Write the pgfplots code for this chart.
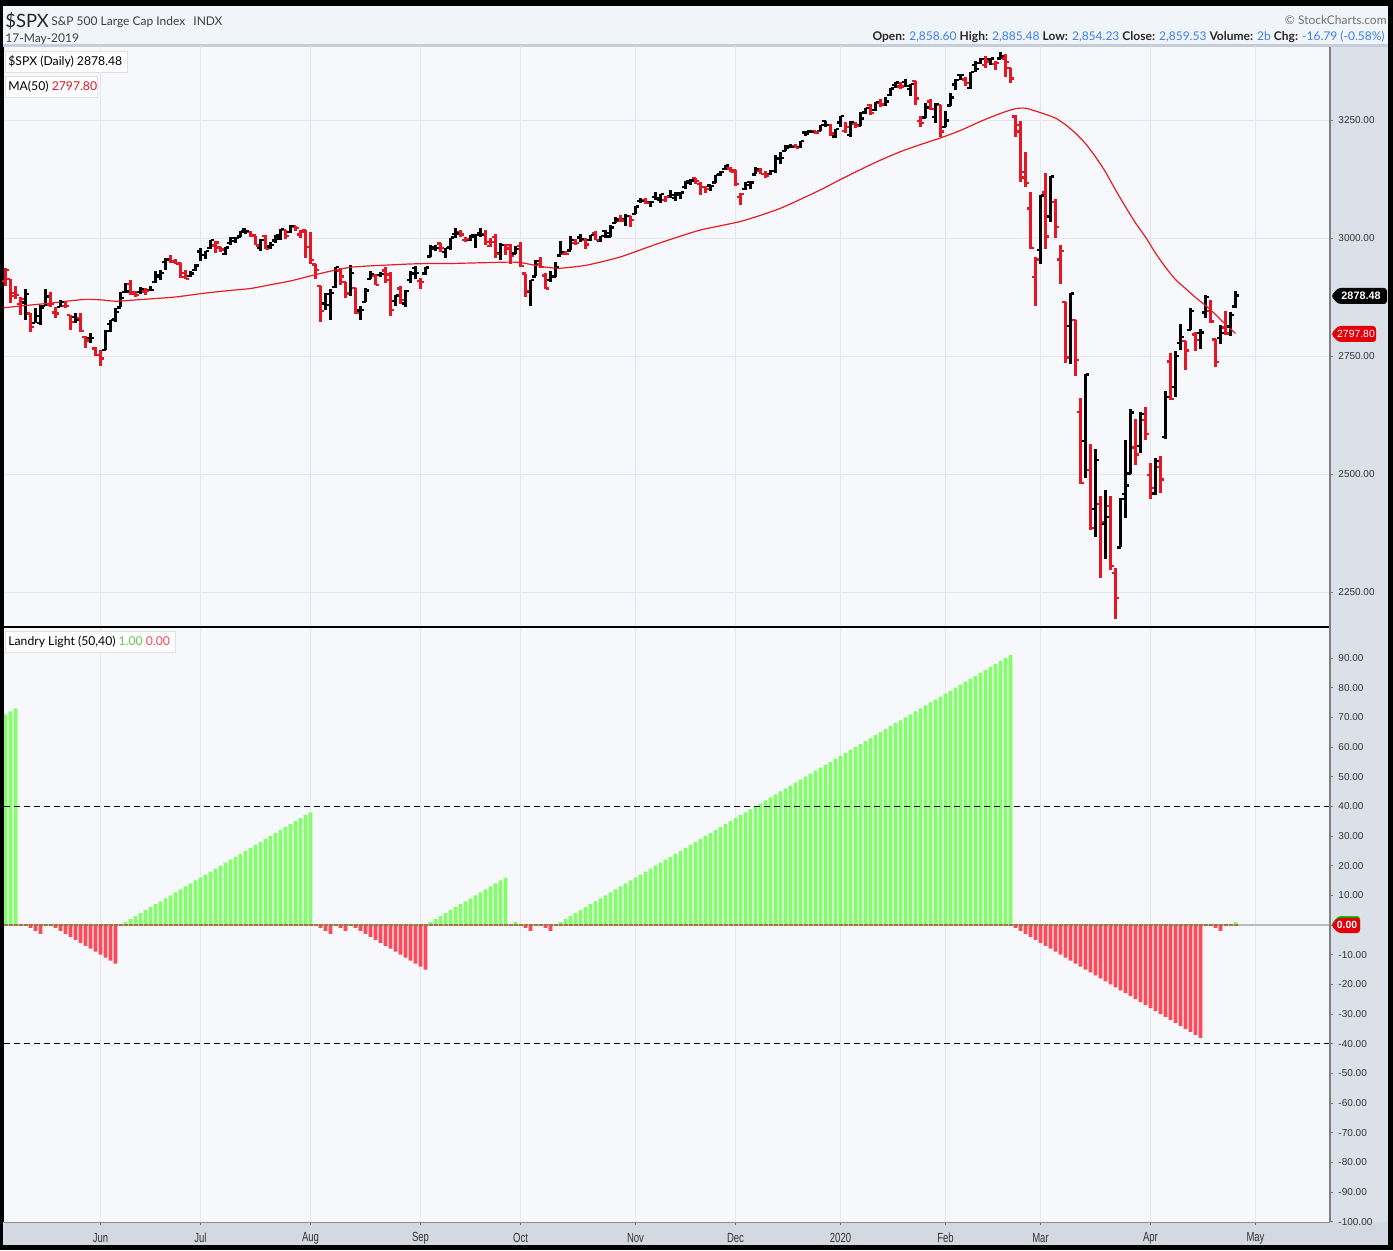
\documentclass[border=0pt]{standalone}
\usepackage{pgfplots}
\pgfplotsset{compat=1.18}
\usepackage{pgfplotstable}
\usepackage{fontspec}
\setmainfont{Lato}
\newfontfamily\numfont{Liberation Sans}
\newfontfamily\condfont[FakeStretch=0.72]{Liberation Sans}

\definecolor{hdrbg}{RGB}{241,244,248}
\definecolor{hdrline}{RGB}{196,206,218}
\definecolor{plotbg}{RGB}{247,248,252}
\definecolor{axbg}{RGB}{220,224,232}
\definecolor{botbg}{RGB}{212,216,224}
\definecolor{gridc}{RGB}{228,230,236}
\definecolor{pricered}{RGB}{228,24,36}
\definecolor{mared}{RGB}{228,30,36}
\definecolor{lgreen}{RGB}{128,255,104}
\definecolor{lred}{RGB}{255,72,88}
\definecolor{brownc}{RGB}{165,115,60}
\definecolor{valblue}{RGB}{58,128,238}
\definecolor{tagred}{RGB}{226,0,10}

\pgfdeclareplotmark{otick}{\pgfpathmoveto{\pgfqpoint{-\pgfplotmarksize}{0pt}}\pgfpathlineto{\pgfqpoint{0pt}{0pt}}\pgfusepathqstroke}
\pgfdeclareplotmark{ctick}{\pgfpathmoveto{\pgfqpoint{0pt}{0pt}}\pgfpathlineto{\pgfqpoint{\pgfplotmarksize}{0pt}}\pgfusepathqstroke}

\pgfplotstableread[row sep=\\]{
i o h l c u\\
-19 2908.89 2937.32 2898.21 2932.51 0\\ -18 2913.03 2913.03 2862.60 2884.05 0\\ -17 2877.49 2898.45 2870.39 2879.42 0\\
-16 2859.84 2875.97 2836.40 2870.72 0\\ -15 2863.10 2891.31 2825.39 2881.40 1\\ -14 2840.19 2840.19 2801.43 2811.87 0\\
-13 2820.12 2852.54 2820.12 2834.41 1\\ -12 2820.38 2858.68 2815.08 2850.96 1\\ -11 2855.80 2892.15 2855.80 2876.32 1\\
-10 2858.60 2885.48 2854.23 2859.53 0\\ -9 2841.94 2853.86 2831.29 2840.23 0\\ -8 2854.02 2868.88 2854.02 2864.36 1\\
-7 2856.06 2865.47 2851.11 2856.27 0\\ -6 2836.70 2836.70 2805.49 2822.24 0\\ -5 2832.41 2841.36 2820.19 2826.06 1\\
-4 2830.03 2840.51 2801.58 2802.39 0\\ -3 2790.25 2792.03 2766.06 2783.02 0\\ -2 2786.94 2799.00 2776.74 2788.86 1\\
-1 2766.15 2768.98 2750.52 2752.06 0\\ 0 2751.53 2763.07 2728.81 2744.45 0\\ 1 2762.64 2804.49 2762.64 2803.27 1\\
2 2818.09 2827.28 2800.92 2826.15 1\\ 3 2828.51 2852.10 2822.45 2843.49 1\\ 4 2852.87 2884.97 2852.87 2873.34 1\\
5 2885.83 2904.77 2885.51 2886.73 1\\ 6 2903.27 2910.61 2878.53 2885.72 0\\ 7 2882.73 2888.57 2874.68 2879.84 0\\
8 2886.24 2895.24 2881.99 2891.64 1\\ 9 2886.82 2894.45 2879.62 2886.98 0\\ 10 2889.75 2897.27 2887.30 2889.67 1\\
11 2906.71 2930.79 2905.44 2917.75 1\\ 12 2920.55 2931.74 2911.43 2926.46 1\\ 13 2949.60 2958.06 2931.50 2954.18 1\\
14 2952.71 2964.15 2946.87 2950.46 0\\ 15 2951.42 2954.92 2944.05 2945.35 0\\ 16 2945.78 2946.52 2916.01 2917.38 0\\
17 2926.07 2932.59 2912.99 2913.78 0\\ 18 2919.66 2929.30 2918.57 2924.92 1\\ 19 2932.94 2943.98 2929.05 2941.76 1\\
20 2971.41 2977.93 2952.22 2964.33 1\\ 21 2964.66 2973.21 2955.92 2973.01 1\\ 22 2978.08 2995.84 2977.96 2995.82 1\\
23 2984.25 2994.03 2967.97 2990.41 0\\ 24 2979.77 2980.76 2970.09 2975.95 0\\ 25 2965.52 2981.90 2963.44 2979.63 1\\
26 2989.30 3002.98 2984.62 2993.07 1\\ 27 2999.62 3002.33 2988.80 2999.91 1\\ 28 3003.36 3013.92 3001.87 3013.77 1\\
29 3017.80 3017.80 3008.77 3014.30 1\\ 30 3012.13 3015.02 3001.15 3004.04 0\\ 31 3005.10 3005.26 2984.25 2984.42 0\\
32 2978.87 2998.28 2973.09 2995.11 1\\ 33 3004.26 3006.02 2975.86 2976.61 0\\ 34 2981.93 2990.71 2976.65 2985.03 1\\
35 2994.74 3005.90 2988.56 3005.47 1\\ 36 2998.77 3019.59 2996.82 3019.56 1\\ 37 3016.26 3016.31 2997.24 3003.67 0\\
38 3013.25 3027.98 3012.59 3025.86 1\\ 39 3024.47 3025.61 3014.30 3020.97 0\\ 40 3007.66 3017.19 3000.94 3013.18 0\\
41 3016.22 3017.40 2958.08 2980.38 0\\ 42 2980.32 3013.59 2945.23 2953.56 0\\ 43 2943.90 2945.50 2914.11 2932.05 0\\
44 2898.07 2898.07 2822.12 2844.74 0\\ 45 2861.18 2884.40 2847.42 2881.77 1\\ 46 2858.65 2892.17 2825.71 2883.98 1\\
47 2896.21 2938.72 2894.47 2938.09 1\\ 48 2930.51 2935.75 2900.15 2918.65 0\\ 49 2907.07 2907.58 2873.14 2882.70 0\\
50 2880.72 2943.31 2877.05 2926.32 1\\ 51 2894.15 2894.15 2839.64 2840.60 0\\ 52 2846.20 2856.67 2825.51 2847.60 1\\
53 2864.74 2893.63 2864.74 2888.68 1\\ 54 2913.48 2931.00 2913.48 2923.65 1\\ 55 2919.01 2923.63 2899.60 2900.51 0\\
56 2922.04 2928.73 2917.91 2924.43 1\\ 57 2930.94 2939.08 2904.51 2922.95 0\\ 58 2911.07 2927.01 2834.97 2847.11 0\\
59 2866.70 2879.27 2856.00 2878.38 1\\ 60 2893.14 2898.79 2860.59 2869.16 0\\ 61 2861.28 2890.03 2853.05 2887.94 1\\
62 2910.37 2930.50 2905.67 2924.58 1\\ 63 2937.09 2940.43 2913.32 2926.46 1\\ 64 2909.01 2914.39 2891.85 2906.27 0\\
65 2924.67 2938.84 2921.86 2937.78 1\\ 66 2960.60 2985.86 2960.60 2976.00 1\\ 67 2980.33 2985.03 2972.51 2978.71 1\\
68 2988.43 2989.43 2969.39 2978.43 0\\ 69 2971.01 2979.39 2957.01 2979.39 1\\ 70 2981.41 3000.93 2975.31 3000.93 1\\
71 3009.08 3020.74 3000.92 3009.57 1\\ 72 3012.21 3017.33 3002.90 3007.39 0\\ 73 2996.41 3002.19 2990.67 2997.96 0\\
74 2995.67 3006.21 2993.73 3005.70 1\\ 75 3001.50 3007.83 2978.57 3006.73 1\\ 76 3010.36 3021.19 3003.16 3006.79 1\\
77 3008.42 3016.37 2984.68 2992.07 0\\ 78 2983.50 2999.15 2982.23 2991.78 0\\ 79 3002.43 3007.98 2957.73 2966.60 0\\
80 2968.35 2989.82 2952.86 2984.87 1\\ 81 2985.73 2987.28 2963.71 2977.62 0\\ 82 2985.47 2987.31 2945.53 2961.79 0\\
83 2967.07 2983.85 2967.07 2976.74 1\\ 84 2983.69 2992.53 2938.70 2940.25 0\\ 85 2924.78 2924.78 2874.93 2887.61 0\\
86 2885.38 2911.13 2855.94 2910.63 1\\ 87 2918.56 2953.74 2918.56 2952.01 1\\ 88 2944.23 2959.75 2935.68 2938.79 0\\
89 2920.40 2925.47 2892.66 2893.06 0\\ 90 2911.10 2929.32 2907.41 2919.40 1\\ 91 2918.55 2948.46 2917.12 2938.13 1\\
92 2963.07 2993.28 2963.07 2970.27 1\\ 93 2965.81 2972.84 2962.94 2966.15 0\\ 94 2973.61 3003.28 2973.61 2995.68 1\\
95 2989.68 2997.54 2985.20 2989.69 0\\ 96 3000.77 3008.29 2991.79 2997.95 1\\ 97 2996.84 3000.00 2976.31 2986.20 0\\
98 2996.48 3007.33 2995.35 3006.72 1\\ 99 3010.73 3014.57 2995.04 2995.99 0\\ 100 2994.01 3004.78 2991.21 3004.52 1\\
101 3014.78 3016.07 3000.42 3010.29 1\\ 102 3003.32 3027.39 3001.94 3022.55 1\\ 103 3032.12 3044.08 3032.12 3039.42 1\\
104 3035.39 3047.87 3034.81 3036.89 0\\ 105 3039.74 3050.10 3025.96 3046.77 1\\ 106 3046.90 3046.90 3023.19 3037.56 0\\
107 3050.72 3066.95 3050.72 3066.91 1\\ 108 3078.96 3085.20 3074.87 3078.27 1\\ 109 3080.80 3083.95 3072.15 3074.62 0\\
110 3075.10 3078.34 3065.89 3076.78 1\\ 111 3087.02 3097.77 3080.23 3085.18 1\\ 112 3081.25 3093.09 3073.58 3093.08 1\\
113 3080.33 3088.33 3075.82 3087.01 0\\ 114 3089.28 3102.61 3084.73 3091.84 1\\ 115 3084.18 3098.06 3078.80 3094.04 1\\
116 3090.75 3098.20 3083.26 3096.63 1\\ 117 3107.92 3120.46 3104.60 3120.46 1\\ 118 3117.91 3124.17 3112.06 3122.03 1\\
119 3127.45 3127.64 3113.47 3120.18 0\\ 120 3114.66 3118.97 3091.41 3108.46 0\\ 121 3108.49 3110.11 3094.55 3103.54 0\\
122 3111.41 3112.87 3099.26 3110.29 1\\ 123 3117.44 3133.83 3117.44 3133.64 1\\ 124 3134.85 3142.69 3131.00 3140.52 1\\
125 3145.49 3154.26 3143.41 3153.63 1\\ 126 3147.18 3150.30 3139.34 3140.98 0\\ 127 3143.85 3144.31 3110.78 3113.87 0\\
128 3087.41 3094.97 3070.33 3093.20 0\\ 129 3103.50 3119.38 3102.53 3112.76 1\\ 130 3119.21 3119.45 3103.76 3117.43 1\\
131 3134.62 3150.60 3134.62 3145.91 1\\ 132 3141.86 3148.87 3135.46 3135.96 0\\ 133 3135.36 3142.12 3126.09 3132.52 0\\
134 3135.75 3143.98 3133.21 3141.63 1\\ 135 3141.23 3176.28 3138.47 3168.57 1\\ 136 3166.65 3182.68 3156.51 3168.80 1\\
137 3183.63 3197.71 3183.63 3191.45 1\\ 138 3195.40 3198.22 3191.03 3192.52 1\\ 139 3195.21 3198.48 3191.14 3191.14 0\\
140 3192.32 3205.48 3191.72 3205.37 1\\ 141 3223.33 3225.65 3216.03 3221.22 1\\ 142 3226.05 3227.78 3222.30 3224.01 1\\
143 3225.45 3226.43 3220.51 3223.38 0\\ 144 3227.20 3240.08 3227.20 3239.91 1\\ 145 3247.23 3247.93 3234.37 3240.02 1\\
146 3240.09 3240.92 3216.57 3221.29 0\\ 147 3215.18 3231.72 3212.03 3230.78 1\\ 148 3244.67 3258.14 3235.53 3257.85 1\\
149 3226.36 3246.15 3222.34 3234.85 0\\ 150 3217.55 3246.84 3214.64 3246.28 1\\ 151 3241.86 3244.91 3232.43 3237.18 0\\
152 3238.59 3267.07 3236.67 3253.05 1\\ 153 3266.03 3275.58 3263.67 3274.70 1\\ 154 3281.81 3282.99 3260.86 3265.35 0\\
155 3271.13 3288.13 3268.43 3288.13 1\\ 156 3285.35 3294.25 3277.19 3283.15 0\\ 157 3282.27 3298.66 3280.69 3289.29 1\\
158 3302.97 3317.11 3302.82 3316.81 1\\ 159 3323.66 3329.88 3318.86 3329.62 1\\ 160 3321.03 3329.79 3316.61 3320.79 0\\
161 3330.02 3337.77 3320.04 3321.75 1\\ 162 3315.77 3326.88 3301.87 3325.54 1\\ 163 3333.10 3333.18 3281.53 3295.47 0\\
164 3247.16 3258.85 3234.50 3243.63 0\\ 165 3255.35 3285.78 3253.22 3276.24 1\\ 166 3289.46 3293.47 3271.89 3273.40 0\\
167 3256.45 3285.91 3242.80 3283.66 1\\ 168 3282.33 3282.33 3214.68 3225.52 0\\ 169 3235.66 3268.44 3235.66 3248.92 1\\
170 3280.61 3306.92 3280.61 3297.59 1\\ 171 3324.91 3337.58 3313.75 3334.69 1\\ 172 3344.92 3347.96 3334.39 3345.78 1\\
173 3335.54 3341.42 3322.12 3327.71 0\\ 174 3318.28 3352.26 3317.77 3352.09 1\\ 175 3365.87 3375.63 3352.72 3357.75 1\\
176 3370.50 3381.47 3369.72 3379.45 1\\ 177 3365.90 3385.09 3360.52 3373.94 0\\ 178 3378.08 3380.69 3366.15 3380.16 1\\
179 3369.04 3375.01 3355.61 3370.29 0\\ 180 3380.39 3393.52 3378.83 3386.15 1\\ 181 3380.45 3389.15 3341.02 3373.23 0\\
182 3360.50 3360.76 3328.45 3337.75 0\\ 183 3257.61 3259.81 3214.65 3225.89 0\\ 184 3238.94 3246.99 3118.77 3128.21 0\\
185 3139.90 3182.51 3108.99 3116.39 0\\ 186 3062.54 3097.07 2977.39 2978.76 0\\ 187 2916.90 2959.72 2855.84 2954.22 0\\
188 2974.28 3090.96 2945.19 3090.23 1\\ 189 3096.46 3136.72 2976.63 3003.37 0\\ 190 3045.75 3130.97 3034.38 3130.12 1\\
191 3075.70 3083.04 2999.83 3023.94 0\\ 192 2954.20 2985.93 2901.54 2972.37 0\\ 193 2863.89 2863.89 2734.43 2746.56 0\\
194 2813.48 2882.59 2734.00 2882.23 1\\ 195 2825.60 2825.60 2707.22 2741.38 0\\ 196 2630.86 2660.95 2478.86 2480.64 0\\
197 2569.99 2711.33 2492.37 2711.02 1\\ 198 2508.59 2562.98 2380.94 2386.13 0\\ 199 2425.66 2553.93 2367.04 2529.19 1\\
200 2436.50 2453.57 2280.52 2398.10 0\\ 201 2393.48 2466.97 2319.78 2409.39 1\\ 202 2431.94 2453.01 2295.56 2304.92 0\\
203 2290.71 2300.73 2191.86 2237.40 0\\ 204 2344.44 2449.71 2344.44 2447.33 1\\ 205 2457.77 2571.42 2407.53 2475.56 1\\
206 2501.29 2637.01 2500.72 2630.07 1\\ 207 2555.87 2615.91 2520.02 2541.47 0\\ 208 2558.98 2631.80 2545.28 2626.65 1\\
209 2614.69 2641.39 2571.15 2584.59 0\\ 210 2498.08 2522.75 2447.49 2470.50 0\\ 211 2458.54 2533.22 2455.79 2526.90 1\\
212 2514.92 2538.18 2459.96 2488.65 0\\ 213 2578.28 2676.85 2574.57 2663.68 1\\ 214 2738.65 2756.89 2657.67 2659.41 0\\
215 2685.00 2760.75 2663.30 2749.98 1\\ 216 2776.99 2818.57 2762.36 2789.82 1\\ 217 2782.46 2782.46 2721.17 2761.63 0\\
218 2805.10 2851.85 2805.10 2846.06 1\\ 219 2795.64 2801.88 2761.54 2783.36 0\\ 220 2799.34 2806.51 2764.32 2799.55 1\\
221 2842.43 2879.22 2830.88 2874.56 1\\ 222 2845.62 2868.98 2820.43 2823.16 0\\ 223 2784.81 2785.54 2727.10 2736.56 0\\
224 2787.89 2815.10 2775.95 2799.31 1\\ 225 2810.42 2844.90 2794.26 2797.80 0\\ 226 2812.64 2842.71 2791.76 2836.74 1\\
227 2854.65 2887.72 2852.89 2878.48 1\\
}\ohlc

\pgfplotstableread[row sep=\\]{
i m\\
-19.5 2852\\ -15 2857\\ -10 2862\\ -6 2867\\ -3 2870\\ 0 2869\\ 3 2866\\ 6 2868\\ 10 2871\\ 15 2875\\
20 2882\\ 25 2888\\ 30 2893\\ 34 2901\\ 38 2909\\ 41 2917\\ 44 2925\\ 47 2932\\ 50 2938\\ 54 2941\\
58 2943\\ 62 2945\\ 66 2946\\ 70 2946\\ 74 2947\\ 78 2948\\ 82 2949\\ 84 2948\\ 86 2944\\ 88 2940\\
90 2937\\ 92 2936\\ 94 2938\\ 97 2942\\ 100 2949\\ 104 2960\\ 108 2975\\ 112 2990\\ 116 3004\\ 120 3017\\
124 3026\\ 128 3035\\ 132 3048\\ 136 3063\\ 140 3082\\ 144 3102\\ 148 3124\\ 152 3145\\ 156 3165\\ 160 3183\\
164 3198\\ 168 3212\\ 172 3228\\ 176 3247\\ 180 3264\\ 183 3274\\ 185 3275\\ 187 3269\\ 189 3262\\ 191 3254\\
193 3240\\ 195 3222\\ 197 3200\\ 199 3172\\ 201 3140\\ 203 3102\\ 205 3066\\ 207 3032\\ 209 3002\\ 211 2968\\
213 2938\\ 215 2912\\ 217 2893\\ 219 2874\\ 221 2857\\ 223 2838\\ 225 2817\\ 227 2797.8\\
}\ma

\pgfplotstableread[row sep=\\]{
i v\\
-19 71\\ -18 72\\ -17 73\\ -14 -1\\ -13 -2\\ -12 -3\\
-9 -1\\ -8 -2\\ -7 -3\\ -6 -4\\ -5 -5\\ -4 -6\\ -3 -7\\ -2 -8\\ -1 -9\\ 0 -10\\ 1 -11\\ 2 -12\\ 3 -13\\
5 1\\ 6 2\\ 7 3\\ 8 4\\ 9 5\\ 10 6\\ 11 7\\ 12 8\\ 13 9\\ 14 10\\ 15 11\\ 16 12\\ 17 13\\ 18 14\\ 19 15\\
20 16\\ 21 17\\ 22 18\\ 23 19\\ 24 20\\ 25 21\\ 26 22\\ 27 23\\ 28 24\\ 29 25\\ 30 26\\ 31 27\\ 32 28\\
33 29\\ 34 30\\ 35 31\\ 36 32\\ 37 33\\ 38 34\\ 39 35\\ 40 36\\ 41 37\\ 42 38\\
44 -1\\ 45 -2\\ 46 -3\\ 48 -1\\ 49 -2\\
51 -1\\ 52 -2\\ 53 -3\\ 54 -4\\ 55 -5\\ 56 -6\\ 57 -7\\ 58 -8\\ 59 -9\\ 60 -10\\ 61 -11\\ 62 -12\\ 63 -13\\ 64 -14\\ 65 -15\\
66 1\\ 67 2\\ 68 3\\ 69 4\\ 70 5\\ 71 6\\ 72 7\\ 73 8\\ 74 9\\ 75 10\\ 76 11\\ 77 12\\ 78 13\\ 79 14\\ 80 15\\ 81 16\\
83 1\\ 85 -1\\ 86 -2\\ 89 -1\\ 90 -2\\
92 1\\ 93 2\\ 94 3\\ 95 4\\ 96 5\\ 97 6\\ 98 7\\ 99 8\\ 100 9\\ 101 10\\ 102 11\\ 103 12\\ 104 13\\ 105 14\\
106 15\\ 107 16\\ 108 17\\ 109 18\\ 110 19\\ 111 20\\ 112 21\\ 113 22\\ 114 23\\ 115 24\\ 116 25\\ 117 26\\
118 27\\ 119 28\\ 120 29\\ 121 30\\ 122 31\\ 123 32\\ 124 33\\ 125 34\\ 126 35\\ 127 36\\ 128 37\\ 129 38\\
130 39\\ 131 40\\ 132 41\\ 133 42\\ 134 43\\ 135 44\\ 136 45\\ 137 46\\ 138 47\\ 139 48\\ 140 49\\ 141 50\\
142 51\\ 143 52\\ 144 53\\ 145 54\\ 146 55\\ 147 56\\ 148 57\\ 149 58\\ 150 59\\ 151 60\\ 152 61\\ 153 62\\
154 63\\ 155 64\\ 156 65\\ 157 66\\ 158 67\\ 159 68\\ 160 69\\ 161 70\\ 162 71\\ 163 72\\ 164 73\\ 165 74\\
166 75\\ 167 76\\ 168 77\\ 169 78\\ 170 79\\ 171 80\\ 172 81\\ 173 82\\ 174 83\\ 175 84\\ 176 85\\ 177 86\\
178 87\\ 179 88\\ 180 89\\ 181 90\\ 182 91\\
183 -1\\ 184 -2\\ 185 -3\\ 186 -4\\ 187 -5\\ 188 -6\\ 189 -7\\ 190 -8\\ 191 -9\\ 192 -10\\ 193 -11\\ 194 -12\\
195 -13\\ 196 -14\\ 197 -15\\ 198 -16\\ 199 -17\\ 200 -18\\ 201 -19\\ 202 -20\\ 203 -21\\ 204 -22\\ 205 -23\\
206 -24\\ 207 -25\\ 208 -26\\ 209 -27\\ 210 -28\\ 211 -29\\ 212 -30\\ 213 -31\\ 214 -32\\ 215 -33\\ 216 -34\\
217 -35\\ 218 -36\\ 219 -37\\ 220 -38\\
223 -1\\ 224 -2\\ 227 1\\
}\landry

\pgfplotsset{
  scpanel/.style={
    anchor=south west, scale only axis, width=663pt,
    xmin=-19.3, xmax=245.9,
    axis line style={draw=none},
    xtick={0,20,42,64,84,107,127,148,169,188,210,231},
    ytick pos=right, yticklabel pos=right, tick align=outside,
    major tick length=1.5pt,
    ytick style={draw=black!55, line width=0.4pt},
    xmajorgrids, major grid style={draw=gridc, line width=0.5pt},
    yticklabel style={font=\numfont\fontsize{5}{6}\selectfont, text=black!80, xshift=-0.8pt,
      /pgf/number format/fixed, /pgf/number format/fixed zerofill,
      /pgf/number format/precision=2, /pgf/number format/1000 sep={},
      /pgf/number format/assume math mode=true},
    scaled y ticks=false,
    clip=true,
  },
  % vertical high-low line plus the open tick, drawn from one row
  hilo/.style={only marks, mark=otick, mark size=1.7pt, line width=1.15pt,
    mark options={line width=1.15pt, draw=#1, fill=#1}, color=#1,
    error bars/.cd, y dir=both, y explicit, error mark=none,
    error bar style={line width=1.15pt, color=#1}},
}

\begin{document}
\begin{tikzpicture}[x=0.5pt,y=0.5pt]
% frame and backgrounds
\fill[black] (0,0) rectangle (1393,1250);
\fill[hdrbg] (3,1204) rectangle (1388,1244);
\fill[hdrline] (3,1203) rectangle (1388,1205.5);
\fill[plotbg] (4,28) rectangle (1330,1203);
\fill[axbg] (1330,28) rectangle (1388,1203);
\fill[botbg] (3,5) rectangle (1388,28);

% price panel
\begin{axis}[scpanel, at={(2pt,311.5pt)}, height=290.5pt,
  ymin=2175.85, ymax=3406.8,
  xticklabels={}, xtick style={draw=none},
  ytick={2250,2500,2750,3000,3250}, ymajorgrids]
\addplot[restrict expr to domain={\thisrow{u}}{0.5:1.5}, hilo=black]
  table[x=i, y=o, y error plus expr=\thisrow{h}-\thisrow{o}, y error minus expr=\thisrow{o}-\thisrow{l}] {\ohlc};
\addplot[restrict expr to domain={\thisrow{u}}{-0.5:0.5}, hilo=pricered]
  table[x=i, y=o, y error plus expr=\thisrow{h}-\thisrow{o}, y error minus expr=\thisrow{o}-\thisrow{l}] {\ohlc};
\addplot[only marks, mark=ctick, mark size=1.7pt, mark options={line width=1.15pt, draw=black}, restrict expr to domain={\thisrow{u}}{0.5:1.5}] table[x=i, y=c] {\ohlc};
\addplot[only marks, mark=ctick, mark size=1.7pt, mark options={line width=1.15pt, draw=pricered}, restrict expr to domain={\thisrow{u}}{-0.5:0.5}] table[x=i, y=c] {\ohlc};
\addplot[mared, line width=0.6pt, smooth, tension=0.4, mark=none] table[x=i, y=m] {\ma};
\end{axis}

% Landry Light panel
\begin{axis}[scpanel, at={(2pt,14pt)}, height=297pt,
  ymin=-100.1, ymax=100.1,
  xticklabels={Jun,Jul,Aug,Sep,Oct,Nov,Dec,2020,Feb,Mar,Apr,May},
  xtick pos=bottom,
  xtick style={draw=black!55, line width=0.4pt},
  xticklabel style={font=\condfont\fontsize{6.6}{7}\selectfont, text=black!80, anchor=center, yshift=-6.5pt},
  ytick={-100,-90,...,90}]
\addplot[gray!55, line width=0.8pt] coordinates {(-19.3,0) (245.9,0)};
\addplot[ybar, bar width=1.9pt, bar shift=0pt, fill=lgreen, draw=none, restrict y to domain=0.5:200] table[x=i, y=v] {\landry};
\addplot[ybar, bar width=1.9pt, bar shift=0pt, fill=lred, draw=none, restrict y to domain=-200:-0.5] table[x=i, y=v] {\landry};
\addplot[brownc, line width=0.9pt, dash pattern=on 2pt off 0.5pt] coordinates {(-19.3,0) (227.5,0)};
\addplot[black, line width=0.5pt, dash pattern=on 3pt off 2pt] coordinates {(-19.3,40) (245.9,40)};
\addplot[black, line width=0.5pt, dash pattern=on 3pt off 2pt] coordinates {(-19.3,-40) (245.9,-40)};
\end{axis}

% borders
\draw[black, line width=1pt] (4,623) -- (1330,623);
\draw[black!50, line width=0.6pt] (1330,28) -- (1330,1203);
\draw[black!45, line width=0.5pt] (4,28) -- (1330,28);

% header
\node[anchor=base west, inner sep=0pt, font=\fontsize{9.2}{10}\selectfont, text=black!85] at (5,1222) {\$SPX};
\node[anchor=base west, inner sep=0pt, font=\fontsize{6}{7}\selectfont, text=black!75] at (51,1224) {S\&P 500 Large Cap Index};
\node[anchor=base west, inner sep=0pt, font=\fontsize{6}{7}\selectfont, text=black!75] at (193,1224) {INDX};
\node[anchor=base west, inner sep=0pt, font=\fontsize{6}{7}\selectfont, text=black!75] at (5,1207) {17-May-2019};
\node[anchor=base east, inner sep=0pt, font=\fontsize{6}{7}\selectfont, text=black!55] at (1387,1225) {\textcopyright\ StockCharts.com};
\node[anchor=base east, inner sep=0pt, font=\fontsize{6}{7}\selectfont, text=black!85] at (1385,1209)
  {\textbf{Open:} \textcolor{valblue}{2,858.60} \textbf{High:} \textcolor{valblue}{2,885.48} \textbf{Low:} \textcolor{valblue}{2,854.23} \textbf{Close:} \textcolor{valblue}{2,859.53} \textbf{Volume:} \textcolor{valblue}{2b} \textbf{Chg:} \textcolor{valblue}{-16.79 (-0.58\%)}};

% legend boxes
\fill[black!18] (6,1177) rectangle (128,1198);
\filldraw[fill=white, draw=black!12, line width=0.3pt] (5,1178) rectangle (127,1199);
\node[anchor=west, inner sep=0pt, font=\fontsize{6.1}{7}\selectfont, text=black] at (8,1188.5) {\$SPX (Daily) 2878.48};
\fill[black!18] (6,1152) rectangle (98,1173);
\filldraw[fill=white, draw=black!12, line width=0.3pt] (5,1153) rectangle (97,1174);
\node[anchor=west, inner sep=0pt, font=\fontsize{6.1}{7}\selectfont, text=black] at (8,1163.5) {MA(50) \textcolor{pricered}{2797.80}};
\fill[black!18] (6,597) rectangle (176,618);
\filldraw[fill=white, draw=black!12, line width=0.3pt] (5,598) rectangle (175,619);
\node[anchor=west, inner sep=0pt, font=\fontsize{6.1}{7}\selectfont, text=black] at (8,608.5) {Landry Light (50,40) \textcolor{lgreen!80!black}{1.00} \textcolor{lred}{0.00}};

% right tags
\fill[black, rounded corners=1.5pt] (1331,954) -- (1338,962) -- (1387,962) -- (1387,946) -- (1338,946) -- cycle;
\node[font=\numfont\bfseries\fontsize{5.4}{6}\selectfont, text=white, inner sep=0pt] at (1361,954) {2878.48};
\fill[tagred, rounded corners=1.5pt] (1331,916) -- (1338,924) -- (1376,924) -- (1376,908) -- (1338,908) -- cycle;
\node[font=\numfont\fontsize{5.2}{6}\selectfont, text=white, inner sep=0pt] at (1356,916) {2797.80};
\fill[green!80!black, rounded corners=1.5pt] (1331,325) -- (1338,334) -- (1360,334) -- (1360,318) -- (1338,318) -- cycle;
\fill[tagred, rounded corners=1.5pt] (1331,325) -- (1338,332.5) -- (1360,332.5) -- (1360,317) -- (1338,317) -- cycle;
\node[font=\numfont\bfseries\fontsize{5.2}{6}\selectfont, text=white, inner sep=0pt] at (1347,325) {0.00};
\end{tikzpicture}
\end{document}
